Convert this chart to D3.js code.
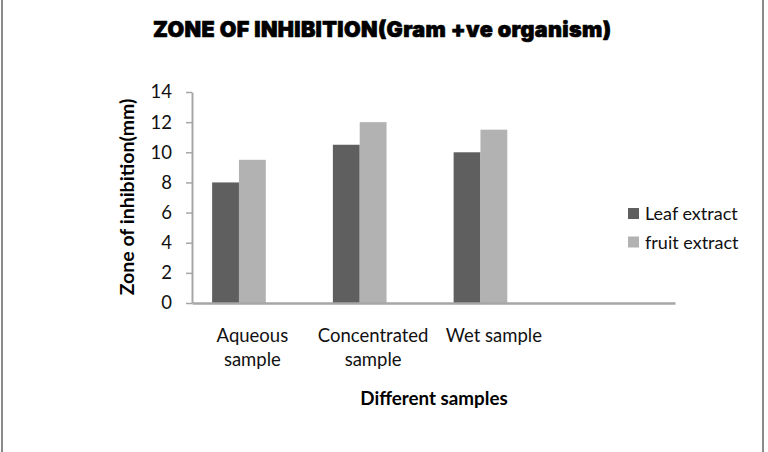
<!DOCTYPE html>
<html><head><meta charset="utf-8">
<script src="https://cdn.jsdelivr.net/npm/d3@7"></script>
<style>
html,body{margin:0;padding:0;background:#fff;}
svg{display:block;}
</style></head>
<body><svg id="c" width="768" height="452"></svg>
<script>
const categories = ["Aqueous sample", "Concentrated sample", "Wet sample", ""];
const seriesNames = ["Leaf extract", "fruit extract"];
const leafValues = [8, 10.5, 10];
const fruitValues = [9.5, 12, 11.5];
const yTicks = [0, 2, 4, 6, 8, 10, 12, 14];
const seriesColors = ["#5f5f5f", "#b2b2b2"];
const titleText = "ZONE OF INHIBITION(Gram +ve organism)";
const yTitle = "Zone of inhibition(mm)";
const xTitle = "Different samples";

const svg = d3.select("#c");
const font = "Lato, 'Open Sans', sans-serif";

// border lines
svg.append("line").attr("x1", 2).attr("x2", 2).attr("y1", 0).attr("y2", 452).attr("stroke", "#8a8a8a").attr("stroke-width", 2);
svg.append("line").attr("x1", 763).attr("x2", 763).attr("y1", 0).attr("y2", 452).attr("stroke", "#8a8a8a").attr("stroke-width", 2);

const x0 = d3.scaleBand().domain(categories).range([192, 675]).paddingInner(0).paddingOuter(0);
const slots = [...seriesNames, "_blank"];
const x1 = d3.scaleBand().domain(slots).range([0, x0.bandwidth()]).paddingInner(0).paddingOuter(0.75);
const y = d3.scaleLinear().domain([0, 14]).range([303, 92]);

// bars
const seriesData = [leafValues, fruitValues];
seriesNames.forEach((s, si) => {
  svg.append("g").selectAll("rect").data(seriesData[si]).join("rect")
    .attr("x", (d, i) => x0(categories[i]) + x1(s))
    .attr("width", x1.bandwidth())
    .attr("y", d => y(d))
    .attr("height", d => y(0) - y(d))
    .attr("fill", seriesColors[si]);
});

// y axis
const yAxis = svg.append("g").attr("transform", "translate(192,0)")
  .call(d3.axisLeft(y).tickValues(yTicks).tickSize(6).tickPadding(14).tickSizeOuter(0));
yAxis.select(".domain").attr("stroke", "#a6a6a6").attr("stroke-width", 2);
yAxis.selectAll(".tick line").attr("stroke", "#a6a6a6").attr("stroke-width", 1.5);
yAxis.selectAll(".tick text").attr("font-family", font).attr("font-size", 18.5).attr("fill", "#111");

// x axis baseline
const xAxis = svg.append("g").attr("transform", `translate(0,${y(0)})`)
  .call(d3.axisBottom(x0).tickSize(0).tickSizeOuter(0).tickFormat(""));
xAxis.select(".domain").attr("stroke", "#a6a6a6").attr("stroke-width", 2.5);
xAxis.selectAll(".tick").remove();

// x labels with wrap
categories.forEach(c => {
  if (!c) return;
  const cx = x0(c) + x0.bandwidth() / 2;
  const t = svg.append("text").attr("x", cx).attr("y", 342).attr("text-anchor", "middle")
    .attr("font-family", font).attr("font-size", 18.5).attr("fill", "#111");
  const words = c.split(" ");
  t.text(c);
  if (t.node().getComputedTextLength() > 115) {
    t.text(null);
    words.forEach((w, i) => t.append("tspan").attr("x", cx).attr("dy", i ? 24 : 0).text(w));
  }
});

// title
svg.append("text").attr("x", 382).attr("y", 37).attr("text-anchor", "middle")
  .attr("font-family", "'Arial Black', Inter, 'DejaVu Sans', sans-serif").attr("font-weight", 900)
  .attr("font-size", 21.5).attr("textLength", 458).attr("lengthAdjust", "spacing")
  .attr("fill", "#000").attr("stroke", "#000").attr("stroke-width", 0.7).attr("stroke-linejoin", "round")
  .text(titleText);

svg.append("text").attr("transform", "translate(134,197) rotate(-90)").attr("text-anchor", "middle")
  .attr("font-family", font).attr("font-weight", "bold").attr("font-size", 19.5).attr("fill", "#000").text(yTitle);

svg.append("text").attr("x", 434).attr("y", 405).attr("text-anchor", "middle")
  .attr("font-family", font).attr("font-weight", "bold").attr("font-size", 18.8).attr("fill", "#000").text(xTitle);

// legend
const leg = svg.append("g");
seriesNames.forEach((s, i) => {
  const g = leg.append("g").attr("transform", `translate(628,${208 + i * 28.5})`);
  g.append("rect").attr("width", 11).attr("height", 11).attr("fill", seriesColors[i]);
  g.append("text").attr("x", 17).attr("y", 12).attr("font-family", font).attr("font-size", 18).attr("fill", "#111").text(s);
});
</script></body></html>
